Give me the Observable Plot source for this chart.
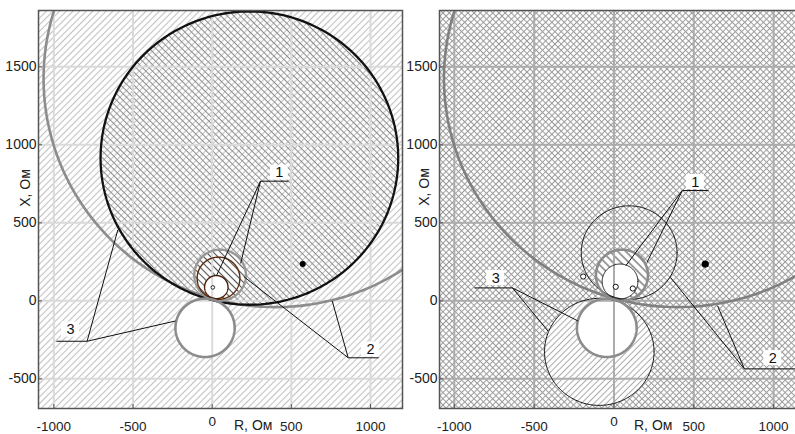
<!DOCTYPE html>
<html>
<head>
<meta charset="utf-8">
<script src="https://cdn.jsdelivr.net/npm/d3@7"></script>
<script src="https://cdn.jsdelivr.net/npm/@observablehq/plot@0.6"></script>
<style>
  html, body { margin: 0; padding: 0; background: #fff; }
  #wrap { position: relative; width: 795px; height: 434px; overflow: hidden; background: #fff; font-family: "Liberation Sans", Arial, sans-serif; }
  .panel { position: absolute; top: 0; width: 403px; height: 434px; }
  .panel svg { max-width: none !important; }
  .alabel { position: absolute; font-size: 14px; color: #222; white-space: nowrap; line-height: 1; }
</style>
</head>
<body>
<svg width="0" height="0" style="position:absolute">
  <defs>
    <pattern id="leftBg" patternUnits="userSpaceOnUse" width="4.7" height="10" patternTransform="rotate(45)">
      <rect width="4.7" height="10" fill="#fff"/>
      <line x1="2.35" y1="0" x2="2.35" y2="10" stroke="#c2c2c2" stroke-width="1.1"/>
    </pattern>
    <pattern id="blackHatch" patternUnits="userSpaceOnUse" width="4.6" height="10" patternTransform="rotate(-45)">
      <line x1="2.3" y1="0" x2="2.3" y2="10" stroke="#8a8a8a" stroke-width="1"/>
    </pattern>
    <pattern id="ringHatchL" patternUnits="userSpaceOnUse" width="5" height="10" patternTransform="rotate(-45)">
      <rect width="5" height="10" fill="#fff"/>
      <line x1="2.5" y1="0" x2="2.5" y2="10" stroke="#555" stroke-width="1.1"/>
    </pattern>
    <pattern id="ringHatchR" patternUnits="userSpaceOnUse" width="5.6" height="10" patternTransform="rotate(-45)">
      <rect width="5.6" height="10" fill="#fff"/>
      <line x1="2.8" y1="0" x2="2.8" y2="10" stroke="#555" stroke-width="1.1"/>
    </pattern>
    <pattern id="rightBg" patternUnits="userSpaceOnUse" width="4.4" height="4.4" patternTransform="rotate(45)">
      <rect width="4.4" height="4.4" fill="#fff"/>
      <line x1="2.2" y1="0" x2="2.2" y2="4.4" stroke="#9a9a9a" stroke-width="1"/>
      <line x1="0" y1="2.2" x2="4.4" y2="2.2" stroke="#9a9a9a" stroke-width="1"/>
    </pattern>
    <pattern id="bottomHatch" patternUnits="userSpaceOnUse" width="4.4" height="10" patternTransform="rotate(45)">
      <rect width="4.4" height="10" fill="#fff"/>
      <line x1="2.2" y1="0" x2="2.2" y2="10" stroke="#a8a8a8" stroke-width="1"/>
    </pattern>
  </defs>
</svg>
<div id="wrap">
  <div id="left" class="panel" style="left:0px"></div>
  <div id="right" class="panel" style="left:402px"></div>
  <div class="alabel" style="left:234px; top:418px;">R, Ом</div>
  <div class="alabel" style="left:634px; top:418px;">R, Ом</div>
  <div class="alabel" style="left:24.5px; top:188px; transform: translate(-50%,-50%) rotate(-90deg);">X, Ом</div>
  <div class="alabel" style="left:423.5px; top:187px; transform: translate(-50%,-50%) rotate(-90deg);">X, Ом</div>
</div>
<script>
// ---- axes ----
const xTicks = [-1000, -500, 0, 500, 1000];
const yTicks = [-500, 0, 500, 1000, 1500];
const yDomain = [-690, 1861];
const leftXDomain = [-1097, 1202];
const rightXDomain = [-1093, 1206];

// ---- circles: centre R, centre X, radius (Ом) ----
const bigGrayCircle    = [400, 1425, 1465];
const blackCircle      = [235, 915, 940];
const smallGrayCircle  = [50, 165, 163];
const brownCircle      = [40, 145, 135];
const innerBrownCircle = [26, 88, 74];
const bottomGrayCircle = [-45, -173, 187];
const topThinCircle    = [95, 309, 300];
const innerWhiteCircle = [38, 124, 112];
const bottomThinCircle = [-92, -327, 343];

// ---- points ----
const loadPointR = [572];
const loadPointX = [236];
const leftMarkR = [4];
const leftMarkX = [86];
const rightMarkR = [-193, 11, 118];
const rightMarkX = [156, 90, 79];

// ---- callouts ----
const labelText = ["1", "2", "3"];
const leftLabelR = [424, 1000, -895];
const leftLabelX = [822, -312, -184];
const leftBarR1 = [305, 859, -984];
const leftBarR2 = [482, 1052, -790];
const leftBarX = [767, -365, -259];
const leftJoinR = [305, 859, -790];
const leftTargetR = [[27, 180], [200, 758], [-596, -232]];
const leftTargetX = [[161, 240], [155, 0], [455, -129]];

const rightLabelR = [510, 995, -741];
const rightLabelX = [762, -367, 146];
const rightBarR1 = [428, 817, -874];
const rightBarR2 = [592, 1250, -636];
const rightBarX = [707, -436, 83];
const rightJoinR = [428, 817, -636];
const rightTargetR = [[74, 207], [354, 649], [-225, -414]];
const rightTargetX = [[225, 247], [150, -32], [-129, -193]];

function ring(c, n = 240) {
  const [cx, cy, r] = c;
  return d3.range(n + 1).map(i => {
    const t = 2 * Math.PI * i / n;
    return {x: cx + r * Math.cos(t), y: cy + r * Math.sin(t)};
  });
}
function circ(c, opts) {
  return Plot.line(ring(c), {x: "x", y: "y", clip: true, fill: "none", stroke: "none", ...opts});
}
function callouts(lr, lx, b1, b2, by, jr, tr, tx) {
  const bars = labelText.map((t, i) => ({x1: b1[i], x2: b2[i], y: by[i]}));
  const legs = [];
  labelText.forEach((t, i) => tr[i].forEach((r, k) => legs.push({x1: jr[i], y1: by[i], x2: r, y2: tx[i][k]})));
  const labs = labelText.map((t, i) => ({t, x: lr[i], y: lx[i]}));
  return [
    Plot.link(bars, {x1: "x1", x2: "x2", y1: "y", y2: "y", stroke: "#111", strokeWidth: 1}),
    Plot.link(legs, {x1: "x1", y1: "y1", x2: "x2", y2: "y2", stroke: "#111", strokeWidth: 1}),
    Plot.rect(labs, {x1: "x", x2: "x", y1: "y", y2: "y", fill: "#fff", insetLeft: -9, insetRight: -9, insetTop: -7.5, insetBottom: -7.5}),
    Plot.text(labs, {x: "x", y: "y", text: "t", fontSize: 14.5, fill: "#111"})
  ];
}
function axes() {
  const fmt = d => String(d);
  return [
    Plot.axisX(xTicks.filter(d => d !== 0), {tickSize: -4, tickPadding: 16.5, tickFormat: fmt, label: null, stroke: "#555", fontSize: 13.5}),
    Plot.axisX([0], {tickSize: -4, tickPadding: 12, tickFormat: fmt, label: null, stroke: "#555", fontSize: 13.5}),
    Plot.axisY(yTicks, {tickSize: -4, tickPadding: 6, tickFormat: fmt, label: null, stroke: "#555", fontSize: 14})
  ];
}
function grid(color) {
  return [
    Plot.gridX(xTicks, {stroke: color, strokeOpacity: 1, strokeWidth: 2}),
    Plot.gridY(yTicks, {stroke: color, strokeOpacity: 1, strokeWidth: 2})
  ];
}
const baseStyle = {fontFamily: "'Liberation Sans', Arial, sans-serif", fontSize: "13.5px", color: "#222", background: "transparent", overflow: "visible"};

const leftPlot = Plot.plot({
  width: 403, height: 434,
  marginLeft: 38, marginRight: 1, marginTop: 10, marginBottom: 26,
  x: {domain: leftXDomain},
  y: {domain: yDomain},
  style: baseStyle,
  marks: [
    Plot.frame({fill: "url(#leftBg)", stroke: "none"}),
    circ(blackCircle, {fill: "url(#blackHatch)"}),
    circ(smallGrayCircle, {fill: "url(#ringHatchL)"}),
    circ(innerBrownCircle, {fill: "#fff"}),
    circ(bottomGrayCircle, {fill: "#fff"}),
    ...grid("#dadada"),
    circ(bigGrayCircle, {stroke: "#8c8c8c", strokeWidth: 2.6}),
    circ(blackCircle, {stroke: "#111", strokeWidth: 2.3}),
    circ(smallGrayCircle, {stroke: "#999", strokeWidth: 2.4}),
    circ(brownCircle, {stroke: "#5a2a0a", strokeWidth: 1.4}),
    circ(innerBrownCircle, {stroke: "#4a2008", strokeWidth: 1.4}),
    circ(bottomGrayCircle, {stroke: "#8c8c8c", strokeWidth: 2.6}),
    Plot.dot(leftMarkR.map((r, i) => ({r, x: leftMarkX[i]})), {x: "r", y: "x", r: 1.8, stroke: "#222", strokeWidth: 1, fill: "#fff"}),
    Plot.dot(loadPointR.map((r, i) => ({r, x: loadPointX[i]})), {x: "r", y: "x", r: 3, fill: "#000", stroke: "none"}),
    ...callouts(leftLabelR, leftLabelX, leftBarR1, leftBarR2, leftBarX, leftJoinR, leftTargetR, leftTargetX),
    Plot.frame({stroke: "#555", strokeWidth: 1.5}),
    ...axes()
  ]
});

const rightPlot = Plot.plot({
  width: 403, height: 434,
  marginLeft: 37, marginRight: -1, marginTop: 10, marginBottom: 26,
  x: {domain: rightXDomain},
  y: {domain: yDomain},
  style: baseStyle,
  marks: [
    Plot.frame({fill: "url(#rightBg)", stroke: "none"}),
    circ(bottomThinCircle, {fill: "url(#bottomHatch)"}),
    circ(smallGrayCircle, {fill: "url(#ringHatchR)"}),
    circ(innerWhiteCircle, {fill: "#fff"}),
    circ(bottomGrayCircle, {fill: "#fff"}),
    ...grid("#acacac"),
    circ(bigGrayCircle, {stroke: "#808080", strokeWidth: 2.6}),
    circ(topThinCircle, {stroke: "#111", strokeWidth: 1}),
    circ(bottomThinCircle, {stroke: "#111", strokeWidth: 1}),
    circ(smallGrayCircle, {stroke: "#8c8c8c", strokeWidth: 2.6}),
    circ(innerWhiteCircle, {stroke: "#111", strokeWidth: 1}),
    circ(bottomGrayCircle, {stroke: "#8c8c8c", strokeWidth: 2.6}),
    Plot.dot(rightMarkR.map((r, i) => ({r, x: rightMarkX[i]})), {x: "r", y: "x", r: 2.6, stroke: "#111", strokeWidth: 1, fill: "#fff"}),
    Plot.dot(loadPointR.map((r, i) => ({r, x: loadPointX[i]})), {x: "r", y: "x", r: 3.6, fill: "#000", stroke: "none"}),
    ...callouts(rightLabelR, rightLabelX, rightBarR1, rightBarR2, rightBarX, rightJoinR, rightTargetR, rightTargetX),
    Plot.frame({stroke: "#555", strokeWidth: 1.5}),
    ...axes()
  ]
});

document.getElementById("left").appendChild(leftPlot);
document.getElementById("right").appendChild(rightPlot);
</script>
</body>
</html>
